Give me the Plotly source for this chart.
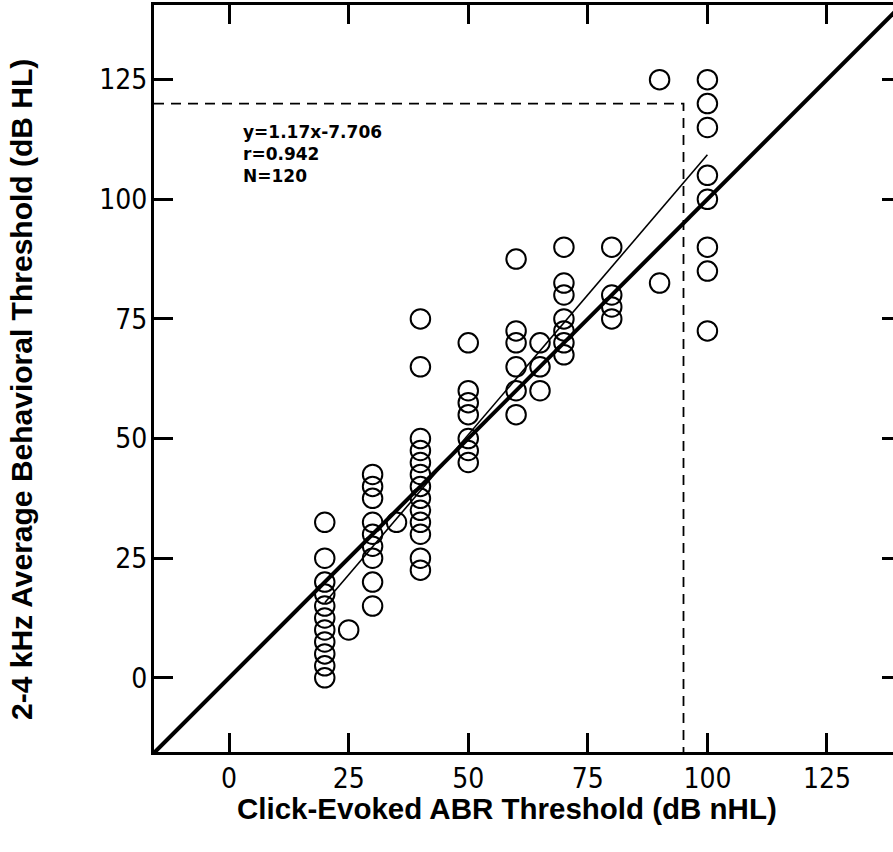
import plotly.graph_objects as go

# ---- data ----
abr_x = ([20] * 11 + [25] + [30] * 9 + [35] + [40] * 13 + [50] * 7 +
         [60] * 6 + [65] * 3 + [70] * 7 + [80] * 4 + [90] * 2 + [100] * 8)
behav_y = [0, 2.5, 5, 7.5, 10, 12.5, 15, 17.5, 20, 25, 32.5,          # 20
           10,                                                      # 25
           15, 20, 25, 27.5, 30, 32.5, 37.5, 40, 42.5,              # 30
           32.5,                                                    # 35
           22.5, 25, 30, 32.5, 35, 37.5, 40, 42.5, 45, 47.5, 50, 65, 75,  # 40
           45, 47.5, 50, 55, 57.5, 60, 70,                          # 50
           55, 60, 65, 70, 72.5, 87.5,                              # 60
           60, 65, 70,                                              # 65
           67.5, 70, 72.5, 75, 80, 82.5, 90,                        # 70
           75, 77.5, 80, 90,                                        # 80
           82.5, 125,                                               # 90
           72.5, 85, 90, 100, 105, 115, 120, 125]                   # 100

tick_vals = [0, 25, 50, 75, 100, 125]
tick_text = ["0", "25", "50", "75", "100", "125"]

fit_slope = 1.17
fit_intercept = -7.706
fit_x = [20, 100]
fit_y = [fit_slope * v + fit_intercept for v in fit_x]

x_range = [-15.7, 138.8]
y_range = [-15.5, 140.6]
identity_x = [-20, 150]
cut_x = 95
cut_y = 120

stat_text = "y=1.17x-7.706<br>r=0.942<br>N=120"
x_title = "Click-Evoked ABR Threshold (dB nHL)"
y_title = "2-4 kHz Average Behavioral Threshold (dB HL)"

TICK_FONT = dict(family="Liberation Sans Narrow, DejaVu Sans Condensed, sans-serif", size=28, color="black")
BOLD = "Liberation Sans, Arial, sans-serif"

fig = go.Figure()

# identity line (thick)
fig.add_trace(go.Scatter(x=identity_x, y=identity_x, mode="lines",
                         line=dict(color="black", width=4), showlegend=False, hoverinfo="skip"))
# regression line (thin)
fig.add_trace(go.Scatter(x=fit_x, y=fit_y, mode="lines",
                         line=dict(color="black", width=1.6), showlegend=False, hoverinfo="skip"))
# dashed cut-off lines
fig.add_trace(go.Scatter(x=[x_range[0], cut_x, cut_x], y=[cut_y, cut_y, y_range[0]], mode="lines",
                         line=dict(color="black", width=1.8, dash="10px,7px"),
                         showlegend=False, hoverinfo="skip"))
# data points
fig.add_trace(go.Scatter(x=abr_x, y=behav_y, mode="markers",
                         marker=dict(symbol="circle-open", size=19.5, color="black",
                                     line=dict(width=2, color="black")),
                         showlegend=False))
# dummy trace for right-hand tick axis
fig.add_trace(go.Scatter(x=[None], y=[None], yaxis="y2", showlegend=False, hoverinfo="skip"))

fig.add_annotation(text=stat_text, xref="x", yref="y", x=2.4, y=116.5,
                   xanchor="left", yanchor="top", align="left", showarrow=False,
                   font=dict(family="DejaVu Sans, sans-serif", size=17, color="black", weight="bold"))
fig.add_annotation(text="<b>" + x_title + "</b>", xref="paper", yref="paper",
                   x=(507 - 154) / 739, y=(752 - 808) / 747,
                   xanchor="center", yanchor="middle", showarrow=False,
                   font=dict(family=BOLD, size=29.5, color="black"))
fig.add_annotation(text="<b>" + y_title + "</b>", xref="paper", yref="paper",
                   x=(21 - 154) / 739, y=(752 - 390) / 747, textangle=-90,
                   xanchor="center", yanchor="middle", showarrow=False,
                   font=dict(family=BOLD, size=30, color="black"))

fig.update_layout(
    width=893, height=852,
    margin=dict(l=154, r=0, t=5, b=100),
    paper_bgcolor="white", plot_bgcolor="white",
    xaxis=dict(range=x_range, showline=True, linewidth=3, linecolor="black",
               mirror="ticks", ticks="inside", ticklen=19, tickwidth=3, tickcolor="black",
               tickvals=tick_vals, ticktext=tick_text, tickfont=TICK_FONT,
               showgrid=False, zeroline=False, ticklabelstandoff=-1),
    yaxis=dict(range=y_range, showline=True, linewidth=3, linecolor="black",
               ticks="inside", ticklen=19, tickwidth=3, tickcolor="black",
               tickvals=tick_vals, ticktext=tick_text, tickfont=TICK_FONT,
               showgrid=False, zeroline=False, ticklabelstandoff=-2),
    yaxis2=dict(overlaying="y", side="right", matches="y", ticks="inside",
                ticklen=11, tickwidth=3, tickcolor="black", tickvals=tick_vals,
                showticklabels=False, showline=False, showgrid=False, zeroline=False),
)

fig.write_html("out.html", config={"displayModeBar": False},
               post_script="document.body.style.margin='0px';")
